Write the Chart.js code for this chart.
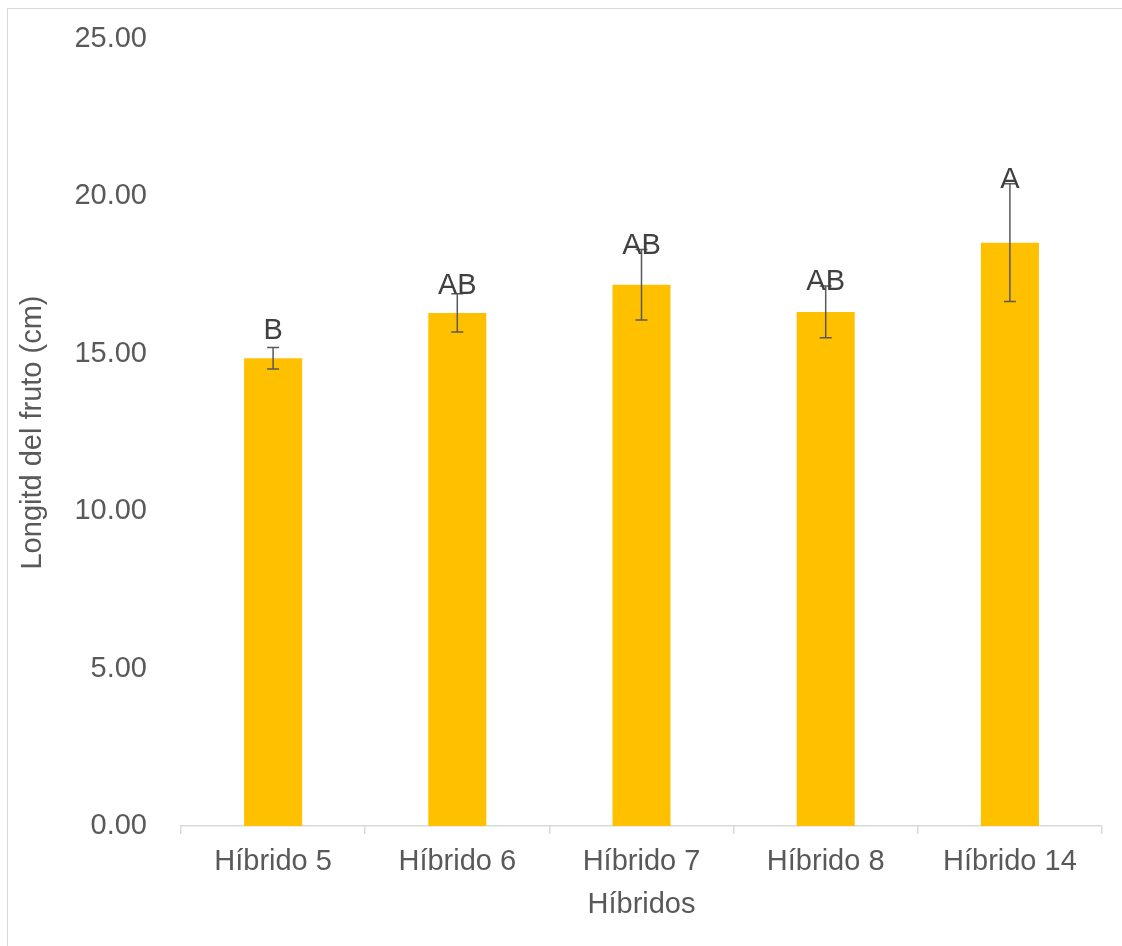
<!DOCTYPE html>
<html>
<head>
<meta charset="utf-8">
<script src="https://cdn.jsdelivr.net/npm/chart.js@4"></script>
<style>
    body { margin: 0; background: #fff; }
    #wrap { position: relative; width: 1122px; height: 946px; }
    #frame { position: absolute; left: 7px; top: 8px; right: -2px; bottom: -2px; border: 1px solid #d9d9d9; }
    canvas { position: absolute; left: 0; top: 0; }
</style>
</head>
<body>
<div id="wrap">
    <div id="frame"></div>
    <canvas id="chart" width="1122" height="946"></canvas>
</div>
<script>
// Datos
const hibridos = ['Híbrido 5', 'Híbrido 6', 'Híbrido 7', 'Híbrido 8', 'Híbrido 14'];
const longitud = [14.86, 16.30, 17.19, 16.33, 18.53];
const errores = [0.34, 0.61, 1.12, 0.82, 1.87];
const letras = ['B', 'AB', 'AB', 'AB', 'A'];

const textColor = '#595959';
const fontFamily = "'Liberation Sans', Arial, sans-serif";

// Barras de error y letras de significancia
const errorBars = {
    id: 'errorBars',
    afterDatasetsDraw(chart) {
        const ctx = chart.ctx;
        const meta = chart.getDatasetMeta(0);
        const y = chart.scales.y;
        ctx.save();
        meta.data.forEach((bar, i) => {
            const x = bar.x;
            const top = y.getPixelForValue(longitud[i] + errores[i]);
            const bottom = y.getPixelForValue(longitud[i] - errores[i]);
            ctx.strokeStyle = '#595959';
            ctx.lineWidth = 1.5;
            ctx.beginPath();
            ctx.moveTo(x, top);
            ctx.lineTo(x, bottom);
            ctx.moveTo(x - 6, top);
            ctx.lineTo(x + 6, top);
            ctx.moveTo(x - 6, bottom);
            ctx.lineTo(x + 6, bottom);
            ctx.stroke();

            // letra sobre la barra o sobre el error, lo que quede más arriba
            const ly = Math.min(bar.y - 27, top - 4);
            ctx.fillStyle = '#404040';
            ctx.font = '29px ' + fontFamily;
            ctx.textAlign = 'center';
            ctx.textBaseline = 'middle';
            ctx.fillText(letras[i], x, ly);
        });
        ctx.restore();
    }
};

const ctx = document.getElementById('chart').getContext('2d');
new Chart(ctx, {
    type: 'bar',
    data: {
        labels: hibridos,
        datasets: [{
            data: longitud,
            backgroundColor: '#ffc000',
            categoryPercentage: 1,
            barPercentage: 0.315
        }]
    },
    options: {
        responsive: false,
        animation: false,
        devicePixelRatio: 1,
        layout: { padding: { top: 39, right: 20, left: 0, bottom: 0 } },
        plugins: {
            legend: { display: false },
            tooltip: { enabled: false }
        },
        scales: {
            x: {
                afterFit: (s) => { s.height = 120; },
                grid: {
                    offset: true,
                    drawOnChartArea: false,
                    drawTicks: true,
                    tickLength: 8,
                    color: '#d9d9d9',
                    lineWidth: 1.5
                },
                border: { color: '#d9d9d9', width: 1.5 },
                ticks: {
                    color: textColor,
                    font: { family: fontFamily, size: 29 },
                    padding: 11,
                    maxRotation: 0
                },
                title: {
                    display: true,
                    text: 'Híbridos',
                    color: textColor,
                    font: { family: fontFamily, size: 29 },
                    padding: { top: 0, bottom: 24 }
                }
            },
            y: {
                min: 0,
                max: 25,
                afterFit: (s) => { s.width = 181; s.paddingTop = 0; s.paddingBottom = 0; },
                grid: { display: false },
                border: { display: false },
                ticks: {
                    stepSize: 5,
                    color: textColor,
                    font: { family: fontFamily, size: 29 },
                    padding: 26,
                    callback: (v) => v.toFixed(2)
                },
                title: {
                    display: true,
                    text: 'Longitd del fruto (cm)',
                    color: textColor,
                    font: { family: fontFamily, size: 29 },
                    padding: { top: 16, bottom: 0 }
                }
            }
        }
    },
    plugins: [errorBars]
});
</script>
</body>
</html>
